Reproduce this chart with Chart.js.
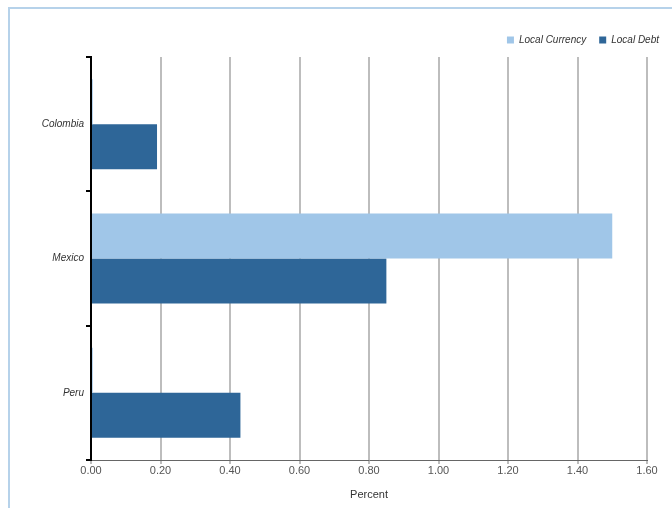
<!DOCTYPE html>
<html>
<head>
<meta charset="utf-8">
<script src="https://cdn.jsdelivr.net/npm/chart.js@4"></script>
<style>
  html, body { margin: 0; padding: 0; background: #fff; overflow: hidden; }
  #wrap { position: relative; width: 672px; height: 508px; }
  #frame { position: absolute; left: 8px; top: 7px; width: 700px; height: 600px;
           border-left: 2px solid #b6d2ea; border-top: 2px solid #b6d2ea; }
  #chart { position: absolute; left: 0; top: 0; }
</style>
</head>
<body>
<div id="wrap">
  <div id="frame"></div>
  <canvas id="chart" width="672" height="508"></canvas>
</div>
<script>
const countries = ['Colombia', 'Mexico', 'Peru'];
const localCurrency = [0.005, 1.50, 0.005];
const localDebt = [0.19, 0.85, 0.43];
const seriesNames = ['Local Currency', 'Local Debt'];
const xTicks = [0, 0.2, 0.4, 0.6, 0.8, 1.0, 1.2, 1.4, 1.6];

const lightBlue = '#a0c6e8';
const darkBlue = '#2e6698';

// legend sits a bit higher above the plot
const legendGap = {
	id: 'legendGap',
	beforeInit(chart) {
		const fit = chart.legend.fit;
		chart.legend.fit = function () {
			fit.bind(chart.legend)();
			this.height += 2;
		};
	}
};

const data = {
	labels: countries,
	datasets: [{
		label: seriesNames[0],
		data: localCurrency,
		backgroundColor: lightBlue,
		borderWidth: 0
	}, {
		label: seriesNames[1],
		data: localDebt,
		backgroundColor: darkBlue,
		borderWidth: 0
	}]
};

const config = {
	type: 'bar',
	data: data,
	options: {
		indexAxis: 'y',
		responsive: false,
		animation: false,
		categoryPercentage: 0.67,
		barPercentage: 1.0,
		layout: {
			padding: { top: 22, left: 0, right: 0, bottom: 6 }
		},
		plugins: {
			legend: {
				position: 'top',
				align: 'end',
				labels: {
					boxWidth: 7,
					boxHeight: 7,
					padding: 13,
					color: '#333',
					font: { family: 'Liberation Sans', size: 10, style: 'italic' }
				}
			},
			tooltip: { enabled: false }
		},
		scales: {
			x: {
				min: 0,
				max: 1.6,
				afterBuildTicks(axis) {
					axis.ticks = xTicks.map(v => ({ value: v }));
				},
				afterFit(axis) { axis.height = 42; },
				ticks: {
					padding: 0,
					color: '#555',
					font: { family: 'Liberation Sans', size: 11 },
					callback: v => Number(v).toFixed(2)
				},
				grid: {
					color: '#bdbdbd',
					lineWidth: 2,
					tickLength: 4
				},
				border: { color: '#666', width: 1 },
				title: {
					display: true,
					text: 'Percent',
					color: '#333',
					padding: 0,
					font: { family: 'Liberation Sans', size: 11 }
				}
			},
			y: {
				afterFit(axis) { axis.width = 91; },
				ticks: {
					padding: 2,
					color: '#333',
					font: { family: 'Liberation Sans', size: 10, style: 'italic' }
				},
				grid: {
					drawOnChartArea: false,
					color: '#000',
					lineWidth: 2,
					tickLength: 5
				},
				border: { color: '#000', width: 2 }
			},
			pad: {
				type: 'linear',
				position: 'right',
				display: true,
				afterFit(axis) { axis.width = 25; },
				ticks: { display: false },
				grid: { display: false },
				border: { display: false }
			}
		}
	},
	plugins: [legendGap]
};

const myChart = new Chart(document.getElementById('chart'), config);
</script>
</body>
</html>
